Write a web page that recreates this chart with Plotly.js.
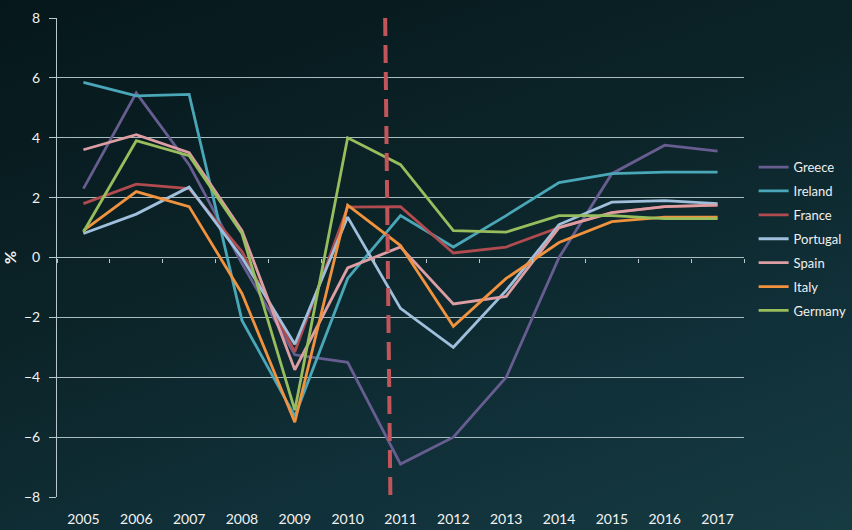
<!DOCTYPE html>
<html>
<head>
<meta charset="utf-8">
<script src="https://cdn.plot.ly/plotly-3.0.1.min.js"></script>
<style>
html,body{margin:0;padding:0;}
body{width:852px;height:530px;overflow:hidden;
background:linear-gradient(160deg,#06171b 0%,#0b2327 40%,#11313a 75%,#163b41 100%);}
#chart{width:852px;height:530px;}
</style>
</head>
<body>
<div id="chart"></div>
<script>
const years = ['2005','2006','2007','2008','2009','2010','2011','2012','2013','2014','2015','2016','2017'];
const greece   = [2.3, 5.5, 3.1, -0.2, -3.25, -3.5, -6.9, -6.0, -4.0, 0.0, 2.8, 3.75, 3.55];
const ireland  = [5.85, 5.4, 5.45, -2.1, -5.3, -0.7, 1.4, 0.35, 1.4, 2.5, 2.8, 2.85, 2.85];
const france   = [1.8, 2.45, 2.3, 0.2, -3.15, 1.68, 1.7, 0.15, 0.35, 1.0, 1.5, 1.7, 1.75];
const portugal = [0.8, 1.45, 2.35, 0.0, -2.9, 1.35, -1.7, -3.0, -1.1, 1.1, 1.85, 1.9, 1.8];
const spain    = [3.6, 4.1, 3.5, 0.9, -3.75, -0.35, 0.35, -1.55, -1.3, 1.0, 1.5, 1.7, 1.75];
const italy    = [0.9, 2.2, 1.7, -1.2, -5.5, 1.75, 0.4, -2.3, -0.7, 0.5, 1.2, 1.35, 1.35];
const germany  = [0.85, 3.9, 3.4, 0.8, -5.1, 4.0, 3.1, 0.9, 0.85, 1.4, 1.4, 1.3, 1.3];
const yTicks = [-8, -6, -4, -2, 0, 2, 4, 6, 8];
const breakStart = 5.71, breakEnd = 5.81;

const series = [
  ['Greece', greece, '#675d90'],
  ['Ireland', ireland, '#4aa7b8'],
  ['France', france, '#b04b4f'],
  ['Portugal', portugal, '#9fbfdc'],
  ['Spain', spain, '#dc9ea2'],
  ['Italy', italy, '#f0923e'],
  ['Germany', germany, '#97bd5c']
];

const traces = series.map(([name, vals, color]) => ({
  type: 'scatter', mode: 'lines', name: name, x: years, y: vals,
  line: {color: color, width: 2.8}, legendgroup: name
}));
// invisible helper trace for tick marks along y=0
traces.push({type:'scatter', x:[-0.5,12.5], y:[0,0], xaxis:'x2', mode:'lines',
  line:{width:0}, hoverinfo:'skip', showlegend:false, opacity:0});

const fontFam = 'Lato, "Open Sans", sans-serif';
const layout = {
  width: 852, height: 530,
  paper_bgcolor: 'rgba(0,0,0,0)', plot_bgcolor: 'rgba(0,0,0,0)',
  margin: {l: 57, r: 108, t: 18, b: 33, autoexpand: false},
  showlegend: true,
  legend: {x: 1.014, xanchor: 'left', y: 0.72, yanchor: 'top',
    font: {family: fontFam, size: 13, color: '#f0f0f0'},
    tracegroupgap: 4, traceorder: 'grouped', bgcolor: 'rgba(0,0,0,0)'},
  xaxis: {type: 'category', range: [-0.5, 12.5], showgrid: false, zeroline: false,
    showline: false, ticks: 'outside', ticklen: 9, tickcolor: 'rgba(0,0,0,0)',
    tickfont: {family: fontFam, size: 14, color: '#f2f2f2'}, fixedrange: true},
  xaxis2: {overlaying: 'x', anchor: 'free', position: 0.5, range: [-0.5, 12.5],
    tick0: 0.5, dtick: 1, ticks: 'outside', ticklen: 4, tickcolor: '#b8c8cc',
    showticklabels: false, showgrid: false, zeroline: false, showline: false},
  yaxis: {range: [-8, 8], tickvals: yTicks, showgrid: true, gridcolor: '#a9bcc0',
    gridwidth: 1, zeroline: false, showline: true, linecolor: '#b8c8cc', linewidth: 1,
    ticks: 'outside', ticklen: 7, tickcolor: '#b8c8cc', ticklabelstandoff: 6,
    tickfont: {family: fontFam, size: 14, color: '#f2f2f2'},
    title: {text: '<b>%</b>', font: {family: fontFam, size: 16, color: '#f2f2f2'}, standoff: 4}},
  shapes: [{type: 'line', xref: 'x', yref: 'paper', x0: breakStart, x1: breakEnd,
    y0: 1, y1: -0.013, line: {color: '#c25559', width: 4, dash: '18px,9px'}}]
};
Plotly.newPlot('chart', traces, layout, {staticPlot: true});
</script>
</body>
</html>
